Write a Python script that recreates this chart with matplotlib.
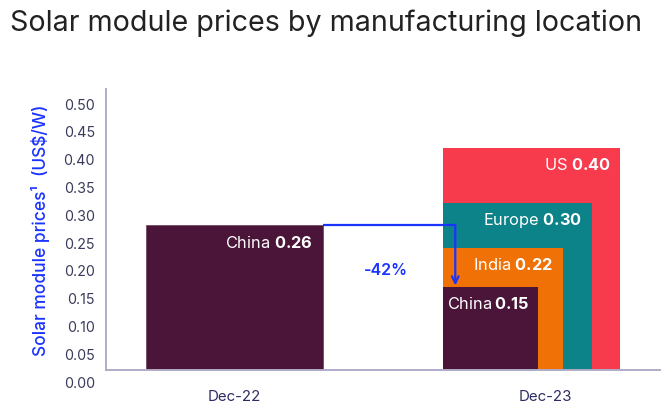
import matplotlib
matplotlib.use("Agg")
import matplotlib.pyplot as plt
import matplotlib.transforms as mtransforms

plt.rcParams['font.family'] = ['Inter', 'DejaVu Sans']
plt.rcParams['mathtext.fontset'] = 'custom'
plt.rcParams['mathtext.rm'] = 'Inter'
plt.rcParams['mathtext.bf'] = 'Inter:bold'

# data
periods = ['Dec-22', 'Dec-23']
dec22_locations = ['China']
dec22_prices = [0.26]
dec23_locations = ['US', 'Europe', 'India', 'China']
dec23_prices = [0.40, 0.30, 0.22, 0.15]
change_label = '-42%'
yticks = [0.00, 0.05, 0.10, 0.15, 0.20, 0.25, 0.30, 0.35, 0.40, 0.45, 0.50]

colors = {'China': '#4a1538', 'India': '#f07206', 'Europe': '#0b8389', 'US': '#f73b4d'}
dec23_widths = [0.570, 0.478, 0.384, 0.304]

fig = plt.figure(figsize=(6.65, 4.14), dpi=100)
ax = fig.add_axes([0.1594, 0.1039, 0.833, 0.6787])

# Dec-22 bar
ax.bar(0, dec22_prices[0], width=0.569, color=colors['China'], edgecolor='#6e4a62', linewidth=0.6)

# Dec-23 nested bars, left aligned
left23 = 1 - 0.327
for loc, val, w in zip(dec23_locations, dec23_prices, dec23_widths):
    ax.bar(left23, val, width=w, align='edge', color=colors[loc], linewidth=0)

ax.set_xlim(-0.412, 1.370)
ax.set_ylim(0, 0.5054)

# value labels inside bars
txt_off = dict(textcoords='offset points', ha='right', va='center', color='white', fontsize=11.8)
ax.annotate('China $\\mathbf{%.2f}$' % dec22_prices[0], (0 + 0.569 / 2, dec22_prices[0]),
            xytext=(-7, -12), **txt_off)
for loc, val, w in zip(dec23_locations, dec23_prices, dec23_widths):
    if loc == 'China':
        # narrow bar, squeeze the gap
        ax.annotate('%s$\\,\\mathbf{%.2f}$' % (loc, val), (left23 + w, val),
                    xytext=(-6, -11.5), **txt_off)
    else:
        ax.annotate('%s $\\mathbf{%.2f}$' % (loc, val), (left23 + w, val),
                    xytext=(-7, -11.5), **txt_off)

# change arrow
x_start = 0.569 / 2
x_turn = left23 + 12 / 311
ax.plot([x_start, x_turn], [dec22_prices[0], dec22_prices[0]], color='#1a33ff', lw=1.6,
        solid_capstyle='butt')
ax.annotate('', xy=(x_turn, dec23_prices[-1] + 0.002), xytext=(x_turn, dec22_prices[0] + 0.0015),
            arrowprops=dict(arrowstyle='->', color='#1a33ff', lw=1.6, mutation_scale=12,
                            shrinkA=0, shrinkB=0))
ax.text((x_start + left23) / 2 + 0.01, 0.18, change_label, color='#1a33ff', fontsize=11.5,
        fontweight='semibold', ha='center', va='center')

# axes styling
for side in ['top', 'right']:
    ax.spines[side].set_visible(False)
for side in ['left', 'bottom']:
    ax.spines[side].set_color('#b0acc8')
    ax.spines[side].set_linewidth(1.4)

ax.set_yticks(yticks)
ax.set_yticklabels(['%.2f' % t for t in yticks])
ax.tick_params(axis='y', length=0, pad=8, labelsize=10.3, labelcolor='#3a3a5c')
shift = mtransforms.ScaledTranslation(0, -8 / 72, fig.dpi_scale_trans)
for lab in ax.get_yticklabels():
    lab.set_transform(lab.get_transform() + shift)

ax.set_xticks([0, 1])
ax.set_xticklabels(periods)
ax.tick_params(axis='x', length=0, pad=14, labelsize=10.8, labelcolor='#2c2c64')

ax.set_ylabel('Solar module prices\u00b9  (US$/W)', color='#1a33ff', fontsize=12.5,
              fontweight='medium', labelpad=10)

fig.text(0.015, 0.945, 'Solar module prices by manufacturing location', fontsize=20.6,
         color='#222222', ha='left', va='center')

fig.savefig('out.png', dpi=100)
